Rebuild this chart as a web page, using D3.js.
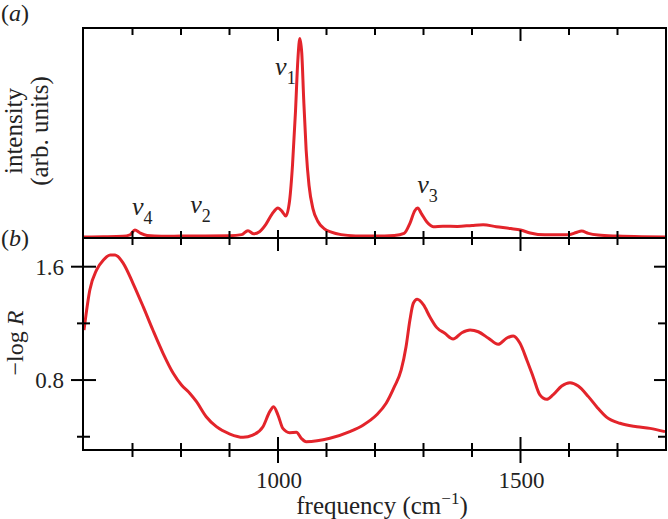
<!DOCTYPE html>
<html><head><meta charset="utf-8">
<script src="https://cdn.jsdelivr.net/npm/d3@7"></script>
<style>
body{margin:0;background:#fff;}
text{font-family:"Liberation Serif","Times New Roman",serif;fill:#222;}
</style></head>
<body><svg id="c" width="668" height="519"></svg>
<script>
// ---- data ----
const ramanFreq = [600,640,680,695,705,715,730,760,800,850,900,925,938,950,962,975,988,1000,1008,1016,1024,1030,1036,1041,1045,1049,1053,1058,1064,1072,1082,1095,1110,1130,1160,1200,1240,1260,1272,1282,1288,1296,1307,1320,1340,1370,1400,1423,1450,1480,1500,1520,1550,1600,1615,1626,1640,1660,1700,1750,1800];
const ramanIntensity = [0.5,0.6,0.8,1.5,3.8,2.5,1.2,0.8,0.9,1.0,1.1,1.6,3.5,2.0,3.0,6.5,11.5,14.3,12.8,10.5,18,35,60,85,95,88,66,42,25,14,8,4.5,2.8,1.6,1.0,0.9,1.2,2.2,7,13,14.3,11.5,7.6,5.4,5.6,5.5,6.0,6.3,5.4,4.5,3.8,2.4,1.5,1.6,2.6,3.3,2.2,1.4,0.9,0.6,0.5];

const reflFreq = [600,612,626,640,654,664,681,701,722,742,763,784,801,818,832,852,873,901,928,948,969,983,991,1000,1010,1024,1038,1048,1058,1107,1148,1176,1203,1223,1240,1254,1264,1272,1279,1287,1300,1313,1327,1344,1361,1379,1396,1413,1434,1454,1471,1485,1499,1513,1526,1540,1554,1567,1585,1602,1619,1640,1657,1678,1705,1740,1767,1798];
const reflLogR = [1.153,1.436,1.577,1.647,1.683,1.683,1.624,1.483,1.318,1.153,0.989,0.848,0.765,0.707,0.647,0.541,0.471,0.419,0.396,0.412,0.471,0.577,0.612,0.553,0.459,0.429,0.431,0.389,0.365,0.389,0.436,0.483,0.553,0.636,0.753,0.871,1.035,1.224,1.342,1.370,1.330,1.247,1.172,1.130,1.090,1.134,1.153,1.141,1.095,1.052,1.095,1.111,1.059,0.942,0.824,0.695,0.664,0.695,0.758,0.781,0.758,0.683,0.612,0.537,0.495,0.471,0.459,0.436];

const xTicksMinor = [700,800,900,1100,1200,1300,1400,1600,1700];
const xTicksMajor = [1000,1500];
const yTicksMajor = [0.8,1.6];
const yTicksMinor = [0.4,1.2];
const bandLabels = [
  {sub:"1", f:994, v:77.6},
  {sub:"3", f:1287, v:21.4},
  {sub:"4", f:699, v:11},
  {sub:"2", f:819, v:11.9}
];

// ---- layout ----
const svg = d3.select("#c");
const L=83, R=666, T1=28, M=238, B=450;
const red = "#e3242b";

const x = d3.scaleLinear().domain([600,1800]).range([L+1,R]);
const yTop = d3.scaleLinear().domain([0,100]).range([M,T1]);
const yBot = d3.scaleLinear().domain([0.3064,1.8025]).range([B,M]);

const lineTop = d3.line().x((d,i)=>x(ramanFreq[i])).y(d=>yTop(d)).curve(d3.curveMonotoneX);
const lineBot = d3.line().x((d,i)=>x(reflFreq[i])).y(d=>yBot(d)).curve(d3.curveMonotoneX);

svg.append("clipPath").attr("id","ct").append("rect").attr("x",L).attr("y",T1).attr("width",R-L).attr("height",M-T1);
svg.append("clipPath").attr("id","cb").append("rect").attr("x",L).attr("y",M).attr("width",R-L).attr("height",B-M);

svg.append("path").attr("d",lineTop(ramanIntensity)).attr("fill","none").attr("stroke",red).attr("stroke-width",3).attr("stroke-linejoin","round").attr("clip-path","url(#ct)");
svg.append("path").attr("d",lineBot(reflLogR)).attr("fill","none").attr("stroke",red).attr("stroke-width",3).attr("stroke-linejoin","round").attr("clip-path","url(#cb)");

// frames
const ax = svg.append("g").attr("stroke","#000").attr("stroke-width",2).attr("fill","none");
ax.append("path").attr("d",`M${L},${T1}H${R}V${B}H${L}Z`);
ax.append("line").attr("x1",L).attr("x2",R).attr("y1",M).attr("y2",M);

function tick(x1,y1,x2,y2){ax.append("line").attr("x1",x1).attr("y1",y1).attr("x2",x2).attr("y2",y2);}
xTicksMinor.forEach(f=>{const px=x(f);
  tick(px,T1,px,T1+7); tick(px,M-7,px,M+7); tick(px,B-7,px,B+7);});
xTicksMajor.forEach(f=>{const px=x(f);
  tick(px,T1,px,T1+13); tick(px,M-8,px,M+13); tick(px,B-13,px,B+13);});
yTicksMajor.forEach(v=>{const py=yBot(v); tick(L-12,py,L+13,py); tick(R-12,py,R,py);});
yTicksMinor.forEach(v=>{const py=yBot(v); tick(L-6,py,L+7,py); tick(R-8,py,R,py);});

// tick labels
const tfs = 23, afs = 25;
xTicksMajor.forEach(f=>svg.append("text").attr("x",x(f)+1).attr("y",488).attr("text-anchor","middle").attr("font-size",tfs).text(f));
yTicksMajor.forEach(v=>svg.append("text").attr("x",64).attr("y",yBot(v)+8).attr("text-anchor","end").attr("font-size",tfs).text(v.toFixed(1)));

// axis titles
const xt = svg.append("text").attr("x",382).attr("y",514).attr("text-anchor","middle").attr("font-size",afs);
xt.append("tspan").text("frequency (cm");
xt.append("tspan").attr("font-size",17).attr("dy",-10).text("−1");
xt.append("tspan").attr("dy",10).text(")");

const yt = svg.append("text").attr("transform","translate(23,343) rotate(-90)").attr("text-anchor","middle").attr("font-size",24);
yt.append("tspan").text("−log ");
yt.append("tspan").attr("font-style","italic").text("R");

svg.append("text").attr("transform","translate(22,131) rotate(-90)").attr("text-anchor","middle").attr("font-size",afs).text("intensity");
svg.append("text").attr("transform","translate(48,131) rotate(-90)").attr("text-anchor","middle").attr("font-size",afs).text("(arb. units)");

// panel letters
function panel(lbl,px,py){const t=svg.append("text").attr("x",px).attr("y",py).attr("font-size",24);
  t.append("tspan").text("(");t.append("tspan").attr("font-style","italic").text(lbl);t.append("tspan").text(")");}
panel("a",1,21);
panel("b",1,246);

// band labels
bandLabels.forEach(b=>{
  const t=svg.append("text").attr("x",x(b.f)).attr("y",yTop(b.v)).attr("font-size",26);
  t.append("tspan").attr("font-style","italic").text("v");
  t.append("tspan").attr("font-size",18).attr("dy",9).text(b.sub);
});
</script></body></html>
